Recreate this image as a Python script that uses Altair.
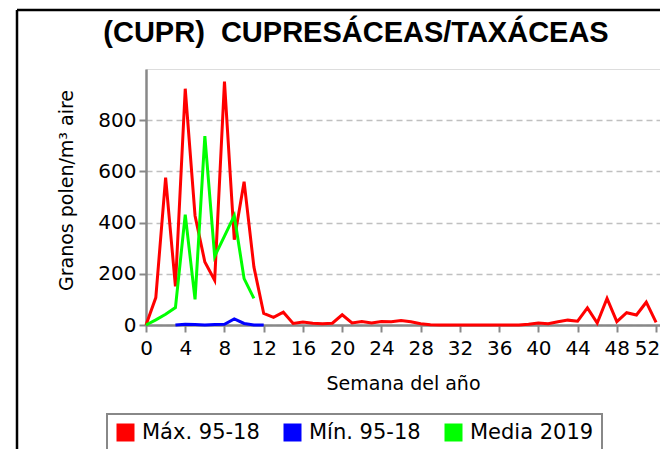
import altair as alt
import pandas as pd

TITLE = "(CUPR)\u00a0 CUPRESÁCEAS/TAXÁCEAS"
SERIES = ["Máx. 95-18", "Mín. 95-18", "Media 2019"]
COLORS = ["#ff0000", "#0000ff", "#00ff00"]

max_weeks = list(range(0, 53))
max_vals = [0, 107, 576, 151, 923, 427, 246, 175, 951, 333, 560, 227, 45,
            30, 50, 6, 12, 7, 5, 7, 40, 8, 14, 8, 14, 13, 18, 13, 5, 1,
            0, 0, 0, 0, 0, 0, 0, 0, 0, 3, 8, 5, 13, 19, 15, 67, 8, 104,
            13, 48, 39, 89, 10]

min_weeks = list(range(3, 13))
min_vals = [0, 3, 2, 0, 2, 3, 24, 6, 0, 0]

mean_weeks = list(range(0, 12))
mean_vals = [0, 20, 42, 68, 431, 100, 738, 268, 347, 427, 181, 104]

rows = []
for s, wk, vals in zip(SERIES, [max_weeks, min_weeks, mean_weeks],
                       [max_vals, min_vals, mean_vals]):
    for w, v in zip(wk, vals):
        rows.append({"week": w, "value": v, "series": s})
df = pd.DataFrame(rows)

color = alt.Color(
    "series:N",
    scale=alt.Scale(domain=SERIES, range=COLORS),
    legend=alt.Legend(
        title=None, orient="none", direction="horizontal",
        legendX=-39, legendY=345,
        symbolType="square", symbolSize=81, symbolStrokeWidth=9,
        symbolOpacity=1, labelFont="DejaVu Sans", labelFontSize=21,
        labelColor="#000000", labelOffset=6, columnPadding=10,
        padding=8, strokeColor="#888888",
    ),
)

x = alt.X(
    "week:Q",
    scale=alt.Scale(domain=[0, 52.4], nice=False, zero=False),
    axis=alt.Axis(
        values=list(range(0, 53, 4)), title="Semana del año",
        grid=False, labelFont="DejaVu Sans", labelFontSize=20,
        labelColor="#000000", tickColor="#888888", tickWidth=2, tickSize=7,
        labelPadding=6, domainColor="#888888", domainWidth=2.5,
        labelOffset=alt.expr("datum.value == 52 ? -9 : 0"),
        titleFont="DejaVu Sans", titleFontSize=19, titleFontWeight="normal",
        titleColor="#000000", titleX=257, titleY=64, titleBaseline="alphabetic",
        labelFlush=False,
    ),
)
y = alt.Y(
    "value:Q",
    scale=alt.Scale(domain=[0, 1000], nice=False),
    axis=alt.Axis(
        values=[0, 200, 400, 600, 800], title="Granos polen/m³ aire",
        grid=True, gridColor="#c0c0c0", gridDash=[6, 4], gridWidth=1.5,
        labelFont="DejaVu Sans", labelFontSize=20, labelColor="#000000",
        tickColor="#888888", tickWidth=2, tickSize=7, labelPadding=3,
        domainColor="#888888", domainWidth=2.5,
        titleFont="DejaVu Sans", titleFontSize=19, titleFontWeight="normal",
        titleColor="#000000", titleX=-74, titleY=121,
        titleBaseline="alphabetic", titleAlign="center",
    ),
)

base = alt.Chart(df)
layers = []
for s in SERIES:
    layers.append(
        base.transform_filter(alt.datum.series == s)
        .mark_line(strokeWidth=3, strokeJoin="miter")
        .encode(x=x, y=y, color=color)
    )

one = pd.DataFrame({"t": [TITLE]})
title = alt.Chart(one).mark_text(
    font="Liberation Sans", fontSize=29, fontWeight="bold",
    align="center", baseline="alphabetic", color="#000000",
).encode(text="t:N", x=alt.value(210), y=alt.value(-27))

frame_left = alt.Chart(one).mark_rule(color="#000000", strokeWidth=2.5).encode(
    x=alt.value(-129), y=alt.value(-59), y2=alt.value(420))
frame_top = alt.Chart(one).mark_rule(color="#000000", strokeWidth=2.5).encode(
    x=alt.value(-129), x2=alt.value(560), y=alt.value(-59))

chart = alt.layer(*layers, title, frame_left, frame_top).properties(
    width=514, height=256,
    autosize=alt.AutoSizeParams(type="none"),
    padding={"left": 138, "top": 61, "right": 0, "bottom": 124},
).configure_view(stroke="#888888", strokeWidth=2.5).configure(
    background="#ffffff"
).configure_legend(strokeWidth=2)

chart.save("out.html", embed_options={"renderer": "svg", "actions": False})
